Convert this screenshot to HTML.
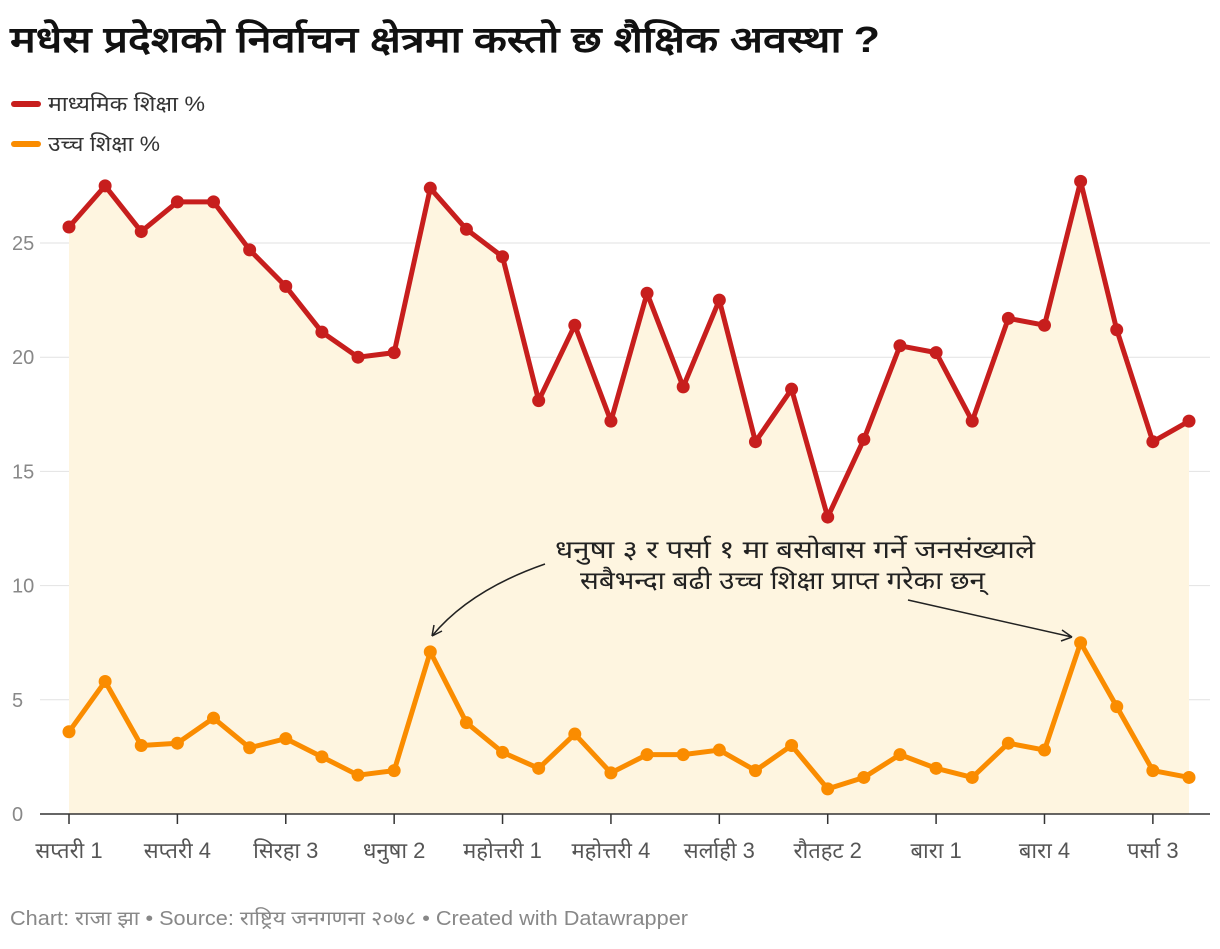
<!DOCTYPE html>
<html><head><meta charset="utf-8">
<style>
body{margin:0;background:#fff;font-family:"Liberation Sans","Noto Sans CJK SC",sans-serif;}
svg text{font-family:"Liberation Sans","Noto Sans CJK SC",sans-serif;}
</style></head>
<body>
<svg id="chart" width="1220" height="944" xmlns="http://www.w3.org/2000/svg">
<text x="10" y="52" font-size="36" font-weight="bold" fill="#111" textLength="870" lengthAdjust="spacingAndGlyphs">मधेस प्रदेशको निर्वाचन क्षेत्रमा कस्तो छ शैक्षिक अवस्था ?</text>
<g>
<rect x="11" y="101" width="30" height="6" rx="3" fill="#c71e1d"/>
<text x="48" y="111" font-size="21" fill="#333" textLength="157" lengthAdjust="spacingAndGlyphs">माध्यमिक शिक्षा %</text>
<rect x="11" y="141" width="30" height="6" rx="3" fill="#fa8c00"/>
<text x="48" y="151" font-size="21" fill="#333" textLength="112" lengthAdjust="spacingAndGlyphs">उच्च शिक्षा %</text>
</g>
<g id="grid"></g>
<g id="area"></g>
<g id="lines"></g>
<g id="xaxis"></g>
<g>
<text x="555" y="558" font-size="25" fill="#222" textLength="480" lengthAdjust="spacingAndGlyphs">धनुषा ३ र पर्सा १ मा बसोबास गर्ने जनसंख्याले</text>
<text x="580" y="589" font-size="25" fill="#222" textLength="405" lengthAdjust="spacingAndGlyphs">सबैभन्दा बढी उच्च शिक्षा प्राप्त गरेका छन्</text>
<path d="M545 564 Q470 590 432 636" fill="none" stroke="#222" stroke-width="1.5"/>
<path d="M432 636 l2 -11 M432 636 l10 -5" fill="none" stroke="#222" stroke-width="1.5"/>
<path d="M908 600 L1072 637" fill="none" stroke="#222" stroke-width="1.5"/>
<path d="M1072 637 l-10 -7 M1072 637 l-11 4" fill="none" stroke="#222" stroke-width="1.5"/>
</g>
<text x="10" y="925" font-size="20" fill="#888" textLength="678" lengthAdjust="spacingAndGlyphs">Chart: राजा झा • Source: राष्ट्रिय जनगणना २०७८ • Created with Datawrapper</text>
</svg>
<script>
const secondary=[25.7,27.5,25.5,26.8,26.8,24.7,23.1,21.1,20.0,20.2,27.4,25.6,24.4,18.1,21.4,17.2,22.8,18.7,22.5,16.3,18.6,13.0,16.4,20.5,20.2,17.2,21.7,21.4,27.7,21.2,16.3,17.2];
const higher=[3.6,5.8,3.0,3.1,4.2,2.9,3.3,2.5,1.7,1.9,7.1,4.0,2.7,2.0,3.5,1.8,2.6,2.6,2.8,1.9,3.0,1.1,1.6,2.6,2.0,1.6,3.1,2.8,7.5,4.7,1.9,1.6];
const xLabels=["सप्तरी 1","सप्तरी 4","सिरहा 3","धनुषा 2","महोत्तरी 1","महोत्तरी 4","सर्लाही 3","रौतहट 2","बारा 1","बारा 4","पर्सा 3"];
const yTicks=[0,5,10,15,20,25];
const NS="http://www.w3.org/2000/svg";
const x=i=>69+i*(1120/31);
const y=v=>814-v*22.84;
function mk(tag,attrs,parent){const e=document.createElementNS(NS,tag);for(const k in attrs)e.setAttribute(k,attrs[k]);parent.appendChild(e);return e;}
const grid=document.getElementById('grid');
yTicks.forEach(t=>{
 if(t>0){const l=mk('line',{x1:40,x2:1210,y1:y(t),y2:y(t),stroke:'#e2e2e2','stroke-width':1},grid);
 
 }
 const tx=mk('text',{x:12,y:y(t)+7,'font-size':20,fill:'#888'},grid);tx.textContent=t;
 
 
});
const area=document.getElementById('area');
let d='M'+x(0)+' '+y(0);secondary.forEach((v,i)=>d+=' L'+x(i)+' '+y(v));d+=' L'+x(secondary.length-1)+' '+y(0)+'Z';
const a=mk('path',{d:d,fill:'#fef5e0'},area);


const lines=document.getElementById('lines');
[[secondary,'#c71e1d','secondary'],[higher,'#fa8c00','higher']].forEach(([arr,c,n])=>{
 const p=mk('polyline',{points:arr.map((v,i)=>x(i)+','+y(v)).join(' '),fill:'none',stroke:c,'stroke-width':5,'stroke-linejoin':'round'},lines);
 
 
 arr.forEach((v,i)=>{const ci=mk('circle',{cx:x(i),cy:y(v),r:6.5,fill:c},lines);
 
 });
});
const xa=document.getElementById('xaxis');
const ax=mk('line',{x1:40,x2:1210,y1:814,y2:814,stroke:'#333','stroke-width':1.5},xa);


xLabels.forEach((lab,k)=>{const i=k*3;
 const tk=mk('line',{x1:x(i),x2:x(i),y1:814,y2:824,stroke:'#333','stroke-width':1.5},xa);
 
 
 const t=mk('text',{x:x(i),y:858,'font-size':22,fill:'#555','text-anchor':'middle'},xa);t.textContent=lab;
 
 
});
</script>
</body></html>
